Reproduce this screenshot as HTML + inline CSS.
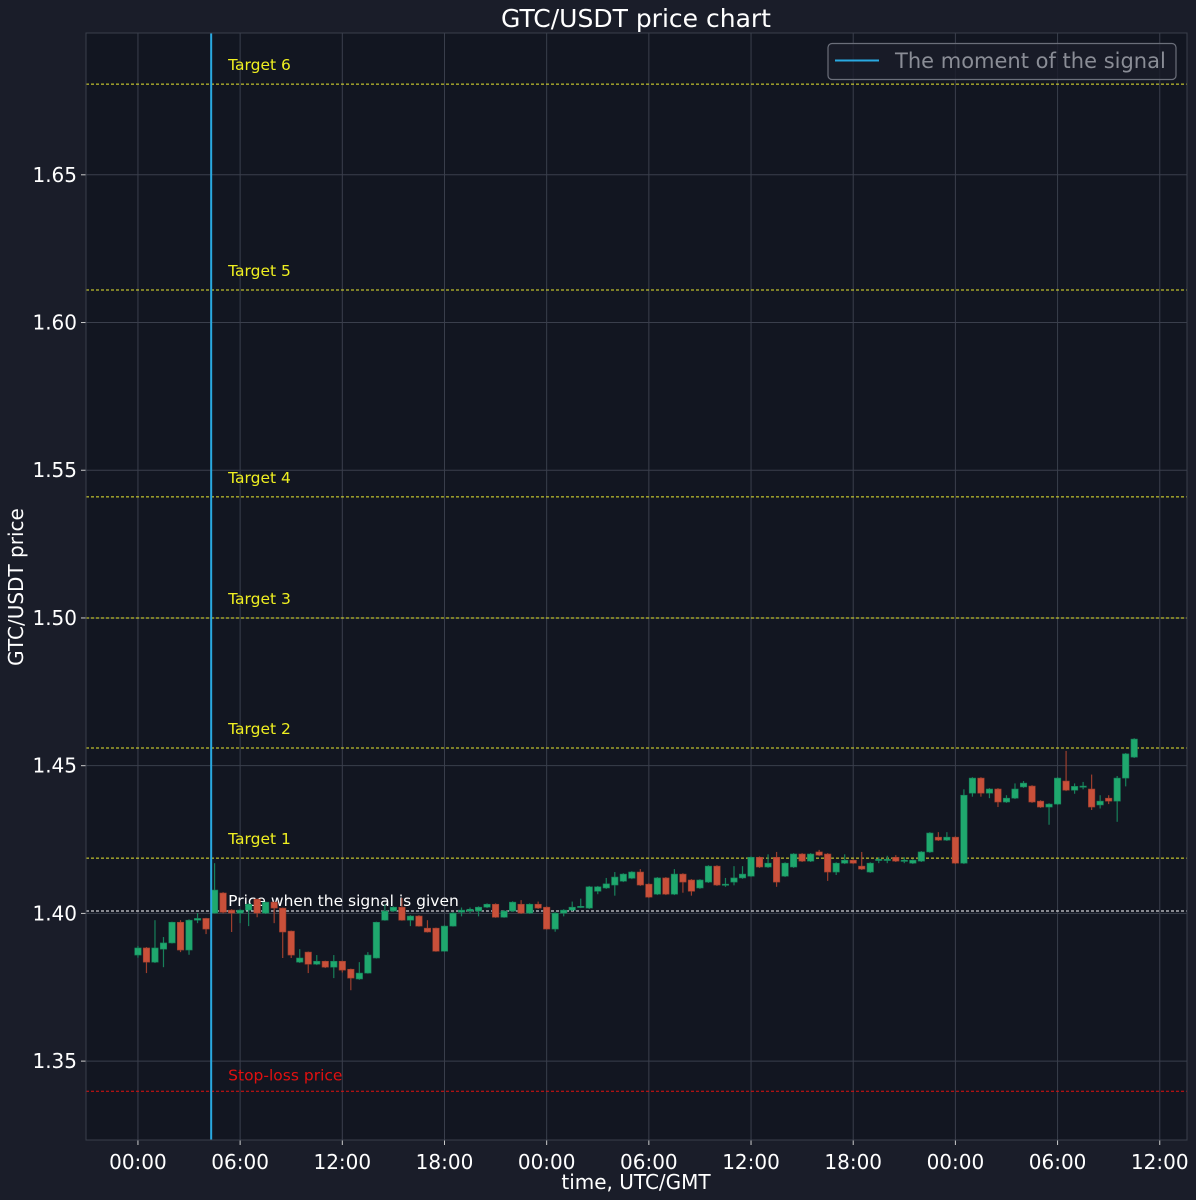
<!DOCTYPE html>
<html><head><meta charset="utf-8">
<style>
html,body{margin:0;padding:0;background:#1a1d29;}
svg{display:block;font-family:"DejaVu Sans","Liberation Sans",sans-serif;}
</style></head>
<body>
<svg id="chart" width="1196" height="1200" viewBox="0 0 1196 1200" xmlns="http://www.w3.org/2000/svg">
<rect x="0" y="0" width="1196" height="1200" fill="#1a1d29"/>
<rect x="86" y="33" width="1101" height="1107" fill="#121621"/>
<g id="grid"></g>
<g id="levels"></g>
<g id="candles"></g>
<g id="signal"></g>
<g id="axes"></g>
<rect x="86" y="33" width="1101" height="1107" fill="none" stroke="#3a3f4c" stroke-width="1"/>
<text x="636" y="27" text-anchor="middle" fill="#ffffff" font-size="25">GTC/USDT price chart</text>
<text x="636" y="1189" text-anchor="middle" fill="#ffffff" font-size="20">time, UTC/GMT</text>
<text x="23" y="587" text-anchor="middle" fill="#ffffff" font-size="20" transform="rotate(-90 23 587)">GTC/USDT price</text>
<g>
<rect x="828" y="43.5" width="348" height="36" rx="4" fill="#1a1d29" fill-opacity="0.8" stroke="#6b6f7a" stroke-width="1.2"/>
<line x1="835" y1="60.5" x2="879" y2="60.5" stroke="#29a9e1" stroke-width="2"/>
<text x="895" y="68" fill="#8a8d96" font-size="21">The moment of the signal</text>
</g>
</svg>
<script>
const yTicks=[1.35,1.40,1.45,1.50,1.55,1.60,1.65];
const xTickHours=[0,6,12,18,24,30,36,42,48,54,60];
const xTickLabels=["00:00","06:00","12:00","18:00","00:00","06:00","12:00","18:00","00:00","06:00","12:00"];
const levelNames=["Target 6","Target 5","Target 4","Target 3","Target 2","Target 1","Price when the signal is given","Stop-loss price"];
const levelValues=[1.6807,1.611,1.541,1.500,1.456,1.4187,1.4008,1.3398];
const signalHour=4.3;
const candleStepHours=0.5;
const opens=[1.3859,1.3883,1.3835,1.3879,1.3900,1.3970,1.3876,1.3977,1.3983,1.4001,1.4069,1.4011,1.4001,1.4011,1.4048,1.4001,1.4038,1.4018,1.3940,1.3835,1.3869,1.3828,1.3838,1.3818,1.3838,1.3811,1.3778,1.3798,1.3849,1.3977,1.4008,1.4021,1.3977,1.3991,1.3950,1.3950,1.3872,1.3957,1.4004,1.4008,1.4008,1.4021,1.4031,1.3987,1.4008,1.4031,1.4001,1.4031,1.4021,1.3947,1.4001,1.4011,1.4021,1.4018,1.4075,1.4086,1.4096,1.4109,1.4119,1.4140,1.4099,1.4065,1.4120,1.4065,1.4133,1.4113,1.4086,1.4106,1.4160,1.4096,1.4106,1.4120,1.4126,1.4190,1.4157,1.4190,1.4126,1.4157,1.4201,1.4177,1.4208,1.4201,1.4140,1.4170,1.4180,1.4160,1.4140,1.4180,1.4180,1.4190,1.4180,1.4170,1.4177,1.4208,1.4258,1.4248,1.4258,1.4170,1.4407,1.4458,1.4407,1.4421,1.4377,1.4390,1.4428,1.4431,1.4380,1.4360,1.4370,1.4448,1.4417,1.4430,1.4421,1.4367,1.4390,1.4380,1.4458,1.4529];
const closes=[1.3883,1.3835,1.3883,1.3900,1.3970,1.3876,1.3977,1.3983,1.3947,1.4079,1.4004,1.4001,1.4011,1.4031,1.4001,1.4038,1.4018,1.3937,1.3859,1.3849,1.3828,1.3838,1.3818,1.3838,1.3808,1.3781,1.3798,1.3859,1.3970,1.4008,1.4021,1.3977,1.3991,1.3957,1.3937,1.3872,1.3957,1.4001,1.4011,1.4014,1.4021,1.4031,1.3987,1.4008,1.4038,1.4001,1.4031,1.4018,1.3947,1.4001,1.4011,1.4021,1.4024,1.4090,1.4090,1.4100,1.4123,1.4133,1.4140,1.4096,1.4055,1.4120,1.4065,1.4133,1.4106,1.4075,1.4113,1.4160,1.4096,1.4099,1.4120,1.4133,1.4190,1.4157,1.4170,1.4106,1.4170,1.4201,1.4177,1.4201,1.4197,1.4140,1.4170,1.4180,1.4170,1.4150,1.4170,1.4183,1.4183,1.4177,1.4180,1.4180,1.4208,1.4272,1.4248,1.4258,1.4170,1.4400,1.4458,1.4407,1.4421,1.4377,1.4390,1.4421,1.4441,1.4377,1.4360,1.4370,1.4458,1.4417,1.4430,1.4431,1.4360,1.4380,1.4380,1.4458,1.4540,1.4590];
const highs=[1.3890,1.3886,1.3977,1.3920,1.3972,1.3977,1.3980,1.4001,1.3985,1.4170,1.4072,1.4014,1.4014,1.4034,1.4050,1.4040,1.4040,1.4020,1.3942,1.3879,1.3871,1.3859,1.3840,1.3859,1.3840,1.3813,1.3835,1.3869,1.3972,1.4030,1.4024,1.4052,1.3994,1.3994,1.3977,1.3952,1.3960,1.4004,1.4020,1.4020,1.4024,1.4034,1.4034,1.4011,1.4041,1.4045,1.4034,1.4040,1.4024,1.4004,1.4014,1.4040,1.4050,1.4093,1.4093,1.4120,1.4140,1.4136,1.4143,1.4150,1.4102,1.4123,1.4123,1.4150,1.4136,1.4116,1.4116,1.4163,1.4163,1.4120,1.4160,1.4160,1.4193,1.4193,1.4200,1.4208,1.4173,1.4204,1.4204,1.4204,1.4215,1.4204,1.4173,1.4200,1.4183,1.4208,1.4173,1.4190,1.4195,1.4197,1.4190,1.4183,1.4211,1.4275,1.4275,1.4275,1.4261,1.4420,1.4461,1.4461,1.4424,1.4424,1.4400,1.4440,1.4448,1.4434,1.4383,1.4373,1.4461,1.4550,1.4440,1.4445,1.4470,1.4400,1.4400,1.4465,1.4543,1.4593];
const lows=[1.3850,1.3798,1.3832,1.3818,1.3898,1.3869,1.3860,1.3967,1.3930,1.3999,1.4000,1.3937,1.3967,1.3957,1.3987,1.3998,1.3967,1.3849,1.3849,1.3832,1.3798,1.3825,1.3815,1.3781,1.3800,1.3740,1.3775,1.3796,1.3847,1.3975,1.4005,1.3975,1.3957,1.3955,1.3935,1.3870,1.3870,1.3955,1.3990,1.4000,1.3990,1.4018,1.3985,1.3985,1.4005,1.3998,1.3998,1.4015,1.3945,1.3938,1.3990,1.4008,1.4018,1.4015,1.4065,1.4083,1.4060,1.4106,1.4116,1.4093,1.4052,1.4062,1.4062,1.4062,1.4070,1.4060,1.4083,1.4103,1.4093,1.4090,1.4095,1.4117,1.4123,1.4154,1.4154,1.4090,1.4123,1.4154,1.4174,1.4174,1.4194,1.4110,1.4130,1.4167,1.4167,1.4147,1.4137,1.4170,1.4170,1.4174,1.4170,1.4167,1.4174,1.4205,1.4245,1.4245,1.4167,1.4167,1.4395,1.4395,1.4390,1.4360,1.4374,1.4387,1.4425,1.4374,1.4357,1.4300,1.4367,1.4414,1.4405,1.4420,1.4350,1.4355,1.4370,1.4310,1.4430,1.4526];

const NS="http://www.w3.org/2000/svg";
const PX0=86,PX1=1187,PY0=33,PY1=1140;
const yMin=1.3233,yMax=1.698;
const hMin=-3.05,hMax=61.6;
function yScale(v){return PY1-(v-yMin)/(yMax-yMin)*(PY1-PY0);}
function xScale(h){return PX0+(h-hMin)/(hMax-hMin)*(PX1-PX0);}
function mk(tag,attrs,parent){const e=document.createElementNS(NS,tag);for(const k in attrs)e.setAttribute(k,attrs[k]);parent.appendChild(e);return e;}

const grid=document.getElementById('grid'),axes=document.getElementById('axes');
yTicks.forEach((t,i)=>{
  const y=yScale(t);
  const g=mk('line',{x1:PX0,x2:PX1,y1:y,y2:y,stroke:'#3a3f4c','stroke-width':1},grid);
  
  
  const tk=mk('line',{x1:PX0-5,x2:PX0,y1:y,y2:y,stroke:'#cccccc','stroke-width':1},axes);
  
  
  const tx=mk('text',{x:PX0-9,y:y+7,'text-anchor':'end',fill:'#ffffff','font-size':20},axes);
  tx.textContent=t.toFixed(2);
  
  
});
xTickHours.forEach((h,i)=>{
  const x=xScale(h);
  const g=mk('line',{x1:x,x2:x,y1:PY0,y2:PY1,stroke:'#3a3f4c','stroke-width':1},grid);
  
  
  const tk=mk('line',{x1:x,x2:x,y1:PY1,y2:PY1+5,stroke:'#cccccc','stroke-width':1},axes);
  
  
  const tx=mk('text',{x:x,y:PY1+29,'text-anchor':'middle',fill:'#ffffff','font-size':20},axes);
  tx.textContent=xTickLabels[i];
  
  
});

const lv=document.getElementById('levels');
const sx=xScale(signalHour);
levelValues.forEach((v,i)=>{
  const y=yScale(v);
  const isEntry=i===6,isSL=i===7;
  const col=isSL?'#e01010':(isEntry?'#ffffff':'#e8e830');
  const l=mk('line',{x1:PX0,x2:PX1,y1:y,y2:y,stroke:col,'stroke-width':1,'stroke-dasharray':'3,2'},lv);
  
  
  const t=mk('text',{x:sx+17,y:isEntry?y-5:(isSL?y-11:y-14),fill:isSL?'#e01010':(isEntry?'#ffffff':'#f0f020'),'font-size':15.5},lv);
  t.textContent=levelNames[i];
  
  
});

const cg=document.getElementById('candles');
const bw=(xScale(0.38)-xScale(0));
opens.forEach((o,i)=>{
  const c=closes[i],h=highs[i],l=lows[i];
  const x=xScale(i*candleStepHours);
  const up=c>=o;
  const col=up?'#1fa86e':'#c9503a';
  const wick=up?'#17805a':'#9c3e2d';
  const w=mk('line',{x1:x,x2:x,y1:yScale(h),y2:yScale(l),stroke:wick,'stroke-width':1.2},cg);
  
  
  const top=yScale(Math.max(o,c)),bot=yScale(Math.min(o,c));
  const r=mk('rect',{x:x-bw/2,y:top,width:bw,height:Math.max(1.2,bot-top),fill:col,stroke:wick,'stroke-width':0.6},cg);
  
  
});

const sg=document.getElementById('signal');
const sl=mk('line',{x1:sx,x2:sx,y1:PY0,y2:PY1,stroke:'#29a9e1','stroke-width':2},sg);


</script>
</body></html>
